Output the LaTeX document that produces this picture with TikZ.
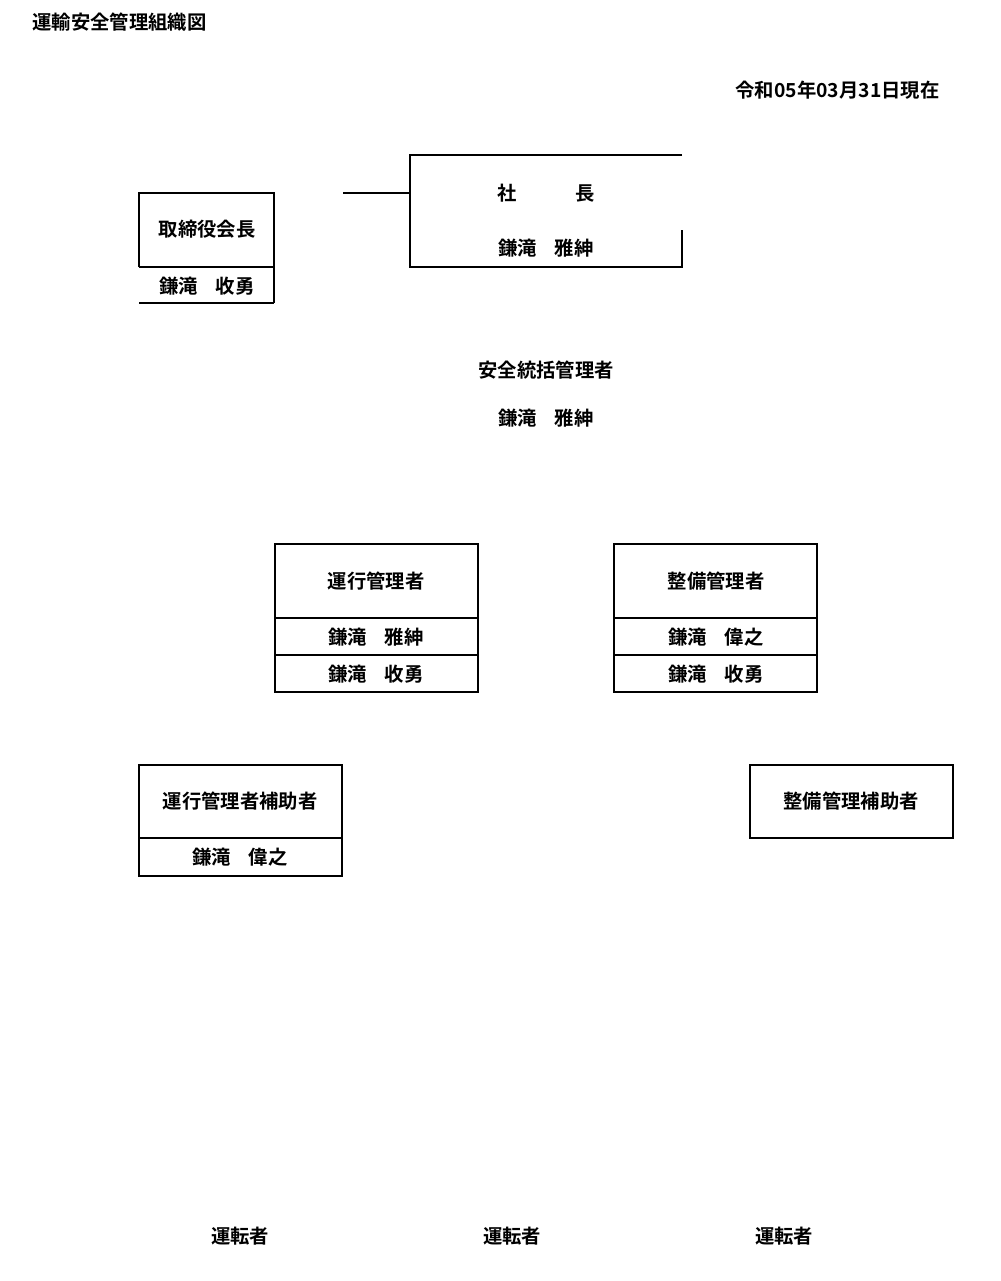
\documentclass[tikz,border=0pt]{standalone}
\usepackage{fontspec}
\setmainfont{Noto Sans CJK JP Bold}
\begin{document}
\begin{tikzpicture}[x=0.75pt,y=-0.75pt,line width=0.9pt,
  lbl/.style={font=\fontsize{14.5}{16}\selectfont,inner sep=0pt}]
\path[use as bounding box] (0,0) rectangle (1000,1281);
\node[lbl,anchor=west] (title) at (32,22) {運輸安全管理組織図};
\node[lbl,anchor=east] (date) at (940,90) {令和05年03月31日現在};
% 取締役会長
\draw (139,267) -- (139,193) -- (274,193) -- (274,303);
\draw (139,267) -- (274,267);
\draw (139,303) -- (274,303);
\node[lbl] (kaicho) at (207,229) {取締役会長};
\node[lbl] (kaichoN) at (207,286) {鎌滝\hspace{0.9em}收勇};
% 社長
\draw (682,155) -- (410,155) -- (410,267) -- (682,267) -- (682,230);
\coordinate (lnA) at (343,193);
\coordinate (lnB) at (410,193);
\draw (lnA) -- (lnB);
\node[lbl] (shacho) at (546,193) {社\hspace{3em}長};
\node[lbl] (shachoN) at (546,248) {鎌滝\hspace{0.9em}雅紳};
% 安全統括管理者
\node[lbl] (tokatsu) at (546,370) {安全統括管理者};
\node[lbl] (tokatsuN) at (546,418) {鎌滝\hspace{0.9em}雅紳};
% 運行管理者
\draw (275,544) rectangle (478,692);
\draw (275,618) -- (478,618) (275,655) -- (478,655);
\node[lbl] (unko) at (376,581) {運行管理者};
\node[lbl] (unko1) at (376,637) {鎌滝\hspace{0.9em}雅紳};
\node[lbl] (unko2) at (376,674) {鎌滝\hspace{0.9em}收勇};
% 整備管理者
\draw (614,544) rectangle (817,692);
\draw (614,618) -- (817,618) (614,655) -- (817,655);
\node[lbl] (seibi) at (716,581) {整備管理者};
\node[lbl] (seibi1) at (716,637) {鎌滝\hspace{0.9em}偉之};
\node[lbl] (seibi2) at (716,674) {鎌滝\hspace{0.9em}收勇};
% 運行管理者補助者
\draw (139,765) rectangle (342,876);
\draw (139,838) -- (342,838);
\node[lbl] (unkoH) at (240,801) {運行管理者補助者};
\node[lbl] (unkoHN) at (240,857) {鎌滝\hspace{0.9em}偉之};
% 整備管理補助者
\draw (750,765) rectangle (953,838);
\node[lbl] (seibiH) at (851,801) {整備管理補助者};
% 運転者
\node[lbl] (d1) at (240,1236) {運転者};
\node[lbl] (d2) at (512,1236) {運転者};
\node[lbl] (d3) at (784,1236) {運転者};
\end{tikzpicture}
\end{document}
